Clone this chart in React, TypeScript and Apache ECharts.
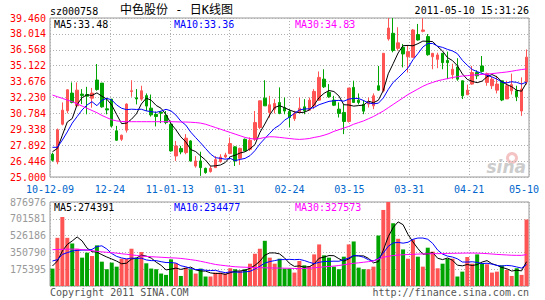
import React, { useEffect, useRef } from 'react';
import * as echarts from 'echarts';

// ---- data ----
const dateLabels = ['10-12-09', '12-24', '11-01-13', '01-31', '02-24', '03-15', '03-31', '04-21', '05-10'];
const priceTicks = ['25.000', '26.446', '27.892', '29.338', '30.784', '32.230', '33.676', '35.122', '36.568', '38.014', '39.460'];
const volTicks = ['', '175395', '350790', '526186', '701581', '876976'];

// [open, close, low, high]
const candles: number[][] = [
  [27.07, 26.52, 26.4, 27.2], [26.37, 29.29, 26.16, 29.41], [29.8, 31.08, 29.7, 31.78], [31.02, 32.93, 30.8, 32.98],
  [32.63, 31.78, 31.7, 33.6], [31.47, 32.9, 31.4, 33.6], [32.54, 32.42, 31.63, 32.99], [32.5, 32.35, 30.7, 33.2],
  [32.17, 32.63, 31.3, 33.1], [33.82, 32.95, 32.85, 35.27], [33.54, 31.38, 31.3, 33.55], [31.2, 31.1, 30.7, 32.2],
  [32.08, 29.65, 29.5, 32.1], [29.2, 28.34, 28.3, 29.65], [28.43, 28.8, 28.28, 28.85], [29.26, 31.63, 29.04, 31.7],
  [32.78, 32.84, 32.3, 33.8], [32.2, 32.1, 31.6, 33.0], [32.08, 32.84, 31.93, 33.3], [32.4, 31.45, 31.0, 32.6],
  [31.26, 30.65, 30.5, 32.5], [30.7, 30.5, 29.6, 30.95], [30.9, 30.8, 29.9, 31.0], [30.6, 29.95, 29.8, 31.0],
  [29.8, 27.37, 27.3, 29.95], [26.91, 27.83, 26.46, 28.28], [27.6, 27.28, 27.07, 27.83], [27.22, 28.53, 27.07, 28.9],
  [28.28, 26.46, 26.4, 28.34], [26.0, 26.46, 25.85, 26.9], [26.46, 25.85, 25.1, 27.3], [25.79, 25.4, 25.3, 25.85],
  [25.49, 25.79, 25.4, 26.0], [25.85, 26.58, 25.85, 26.9], [26.4, 26.82, 26.3, 27.07], [26.82, 27.0, 26.7, 27.2],
  [27.13, 28.04, 27.07, 28.59], [27.74, 26.46, 26.0, 27.8], [26.7, 27.6, 26.1, 27.67], [28.43, 27.37, 27.37, 28.5],
  [27.52, 28.34, 27.37, 28.6], [28.43, 29.95, 28.28, 31.0], [29.5, 31.93, 29.35, 31.93], [32.17, 31.47, 31.47, 33.8],
  [30.87, 31.57, 30.4, 32.38], [31.17, 31.69, 30.78, 32.08], [31.78, 30.78, 30.71, 33.15], [31.3, 31.0, 30.71, 32.23],
  [30.96, 30.41, 29.5, 31.17], [30.3, 30.78, 30.1, 31.02], [30.87, 31.26, 30.8, 32.23], [31.38, 31.02, 30.71, 32.08],
  [31.08, 31.99, 31.02, 32.23], [31.47, 32.78, 31.17, 32.99], [31.99, 34.06, 31.93, 34.6], [33.9, 33.2, 33.09, 34.8],
  [32.7, 32.3, 32.2, 33.45], [31.99, 31.53, 31.45, 32.38], [31.17, 30.78, 30.41, 31.78], [30.87, 30.05, 28.9, 31.63],
  [30.05, 33.09, 29.95, 33.09], [33.15, 31.78, 31.78, 33.76], [31.99, 31.78, 31.6, 32.6], [31.6, 30.99, 30.71, 31.99],
  [31.63, 31.85, 31.32, 32.23], [31.47, 32.38, 31.17, 32.6], [33.3, 32.9, 32.84, 35.1], [32.84, 36.25, 32.7, 36.25],
  [37.55, 38.55, 37.4, 39.46], [38.07, 36.5, 36.34, 39.46], [36.7, 37.2, 36.49, 38.62], [36.8, 36.19, 34.97, 37.1],
  [35.94, 36.4, 34.5, 36.95], [35.88, 38.37, 35.88, 38.46], [37.95, 37.46, 37.4, 38.92], [38.25, 38.37, 38.16, 39.46],
  [37.77, 36.12, 36.03, 38.0], [35.94, 36.25, 34.8, 36.25], [35.7, 36.1, 34.9, 36.3], [36.25, 35.4, 34.8, 36.25],
  [35.6, 35.4, 33.9, 36.4], [34.3, 34.8, 33.9, 35.3], [35.0, 33.9, 33.75, 35.8], [33.75, 32.39, 32.09, 33.75],
  [32.48, 32.9, 32.48, 33.4], [33.45, 34.5, 33.39, 35.1], [34.5, 34.2, 33.9, 34.7], [35.1, 34.6, 34.5, 36.0],
  [33.6, 34.4, 33.3, 34.5], [33.3, 33.9, 33.0, 34.1], [32.9, 33.45, 32.6, 34.2], [33.75, 32.0, 31.9, 33.75],
  [32.1, 33.3, 32.1, 33.75], [32.84, 33.4, 32.5, 34.4], [32.84, 32.3, 31.9, 33.3], [31.0, 33.0, 30.56, 34.06],
  [33.64, 35.9, 33.4, 36.6],
];

const volumes = [
  181600, 503000, 721000, 503000, 444000, 389000, 296000, 348000, 313000, 424000,
  254000, 175000, 244000, 202000, 285000, 285000, 389000, 296000, 355000, 237000,
  182000, 175000, 130000, 116000, 278000, 237000, 105000, 192000, 175000, 130000,
  182000, 99000, 99000, 140000, 140000, 130000, 185000, 175000, 157000, 175000,
  233000, 337000, 389000, 472000, 296000, 233000, 285000, 182000, 182000, 140000,
  261000, 216000, 209000, 330000, 434000, 320000, 296000, 202000, 175000, 306000,
  434000, 465000, 192000, 175000, 175000, 202000, 527000, 794000, 876976, 655000,
  493000, 382000, 285000, 486000, 306000, 202000, 400000, 358000, 185000, 233000,
  285000, 285000, 99000, 150000, 303000, 233000, 330000, 233000, 227000, 140000,
  150000, 216000, 168000, 105000, 185000, 116000, 694000,
];

const ma30Price = [
  32.45, 32.3, 32.15, 32.0, 31.85, 31.65, 31.45, 31.25, 31.05, 30.85,
  30.6, 30.4, 30.2, 30.1, 30.05, 30.03, 30.03, 30.03, 30.03, 30.03,
  30.03, 30.03, 30.03, 30.03, 30.03, 30.02, 30.0, 30.0, 29.98, 29.95,
  29.9, 29.8, 29.65, 29.5, 29.35, 29.2, 29.05, 28.9, 28.75, 28.6,
  28.5, 28.45, 28.5, 28.6, 28.66, 28.65, 28.6, 28.55, 28.5, 28.45,
  28.42, 28.45, 28.5, 28.6, 28.68, 28.8, 28.95, 29.15, 29.3, 29.45,
  29.6, 29.8, 29.95, 30.1, 30.3, 30.5, 30.75, 31.0, 31.3, 31.6,
  31.9, 32.2, 32.5, 32.75, 33.0, 33.25, 33.45, 33.6, 33.75, 33.85,
  33.95, 34.05, 34.12, 34.18, 34.22, 34.26, 34.3, 34.33, 34.36, 34.4,
  34.45, 34.5, 34.55, 34.62, 34.7, 34.77, 34.83,
];

const ma30Vol = [
  379000, 381000, 383000, 384000, 385000, 384000, 380000, 375000, 369000, 362000,
  356000, 352000, 348000, 343000, 337000, 331000, 325000, 319000, 313000, 309000,
  306000, 303000, 300000, 297000, 294000, 292000, 288000, 282000, 275000, 268000,
  258000, 247000, 236000, 225000, 218000, 212000, 206000, 201000, 198000, 196000,
  194000, 192000, 191000, 190000, 189000, 188000, 187000, 186000, 185000, 183000,
  182000, 183000, 186000, 190000, 195000, 200000, 204000, 208000, 214000, 222000,
  230000, 237000, 242000, 248000, 254000, 262000, 280000, 300000, 310000, 318000,
  323000, 326000, 329000, 331000, 333000, 335000, 336000, 337000, 338000, 339000,
  340000, 341000, 342000, 343000, 344000, 344000, 343000, 341000, 338000, 334000,
  330000, 327000, 324000, 321000, 320000, 320000, 327573,
];

// leading moving-average values (history before the first candle)
const ma5PriceHead = [27.3, 27.6, 28.8, 30.0];
const ma10PriceHead = [27.7, 27.7, 28.36, 29.1, 29.9, 30.5, 31.1, 31.55, 31.85];
const ma5VolHead = [209000, 261000, 365000, 434000];
const ma10VolHead = [261000, 275000, 330000, 348000, 365000, 372000, 375000, 375000, 382000];

const RED = '#ff5454';
const GREEN = '#00a400';
const MONO = '"DejaVu Sans Mono", monospace';

function movingAvg(values: number[], n: number, head: number[]) {
  return values.map((_, i) => {
    if (i < n - 1) return head[i];
    let s = 0;
    for (let k = i - n + 1; k <= i; k++) s += values[k];
    return s / n;
  });
}

export default function App() {
  const ref = useRef<HTMLDivElement>(null);
  useEffect(() => {
    if (!ref.current) return;
    const chart = echarts.init(ref.current, undefined, { renderer: 'svg' });
    const cats = candles.map((_, i) => String(i));
    const closes = candles.map((c) => c[1]);
    const ma5 = movingAvg(closes, 5, ma5PriceHead);
    const ma10 = movingAvg(closes, 10, ma10PriceHead);
    const vma5 = movingAvg(volumes, 5, ma5VolHead);
    const vma10 = movingAvg(volumes, 10, ma10VolHead);
    const dotted = { show: true, lineStyle: { color: '#b0b0b0', type: [1, 2] as any, width: 1 } };
    const hidden = { axisLine: { show: false }, axisTick: { show: false } };
    const lineS = (data: number[], color: string, xi: number, yi: number) => ({
      type: 'line', data, xAxisIndex: xi, yAxisIndex: yi, symbol: 'none', silent: true,
      lineStyle: { color, width: 1 }, z: 5,
    });
    const txt = (x: number, y: number, text: string, fill: string, extra: any = {}) => ({
      type: 'text', x, y, silent: true,
      style: { text, fill, font: `10px ${MONO}`, verticalAlign: 'middle', ...extra },
    });
    chart.setOption({
      animation: false,
      backgroundColor: '#ffffff',
      grid: [
        { left: 50, top: 18, width: 479, height: 159, show: true, borderColor: '#999', borderWidth: 1 },
        { left: 50, top: 202, width: 479, height: 84, show: true, borderColor: '#999', borderWidth: 1 },
      ],
      xAxis: [
        { type: 'category', gridIndex: 0, position: 'bottom', data: cats, ...hidden, axisLabel: { show: false }, splitLine: { show: false } },
        {
          type: 'value', gridIndex: 0, position: 'bottom', offset: 0, min: 0, max: 8, interval: 1, ...hidden, splitLine: dotted,
          axisLabel: {
            show: true, color: '#0066cc', fontFamily: MONO, fontSize: 10, margin: 7,
            showMinLabel: true, showMaxLabel: true, hideOverlap: false,
            formatter: (v: number) => {
              const i = Math.round(v);
              return i === 8 ? `{end|${dateLabels[i]}}` : dateLabels[i];
            },
            rich: { end: { color: '#0066cc', fontFamily: MONO, fontSize: 10, padding: [0, 10, 0, 0] } },
          },
        },
        { type: 'category', gridIndex: 1, position: 'bottom', data: cats, ...hidden, axisLabel: { show: false }, splitLine: { show: false } },
        { type: 'value', gridIndex: 1, position: 'bottom', min: 0, max: 8, interval: 1, ...hidden, splitLine: dotted, axisLabel: { show: false } },
      ],
      yAxis: [
        {
          type: 'value', gridIndex: 0, min: 25, max: 39.46, interval: 1.446, ...hidden, splitLine: dotted,
          axisLabel: {
            color: '#ff0000', fontFamily: MONO, fontSize: 10, margin: 4,
            showMinLabel: true, showMaxLabel: true,
            formatter: (v: number) => priceTicks[Math.round((v - 25) / 1.446)] ?? '',
          },
        },
        {
          type: 'value', gridIndex: 1, min: 0, max: 876976, interval: 175395.2, ...hidden, splitLine: dotted,
          axisLabel: {
            color: '#999999', fontFamily: MONO, fontSize: 10, margin: 4,
            showMinLabel: true, showMaxLabel: true,
            formatter: (v: number) => volTicks[Math.round(v / 175395.2)] ?? '',
          },
        },
      ],
      series: [
        {
          type: 'candlestick', xAxisIndex: 0, yAxisIndex: 0, data: candles, barWidth: 3, silent: true,
          itemStyle: { color: RED, color0: GREEN, borderColor: RED, borderColor0: GREEN, borderWidth: 1 },
        },
        lineS(ma5, '#000000', 0, 0),
        lineS(ma10, '#0000ff', 0, 0),
        lineS(ma30Price, '#ff00ff', 0, 0),
        {
          type: 'bar', xAxisIndex: 2, yAxisIndex: 1, barWidth: 4, silent: true,
          data: volumes.map((v, i) => ({
            value: v,
            itemStyle: { color: candles[i][1] >= candles[i][0] ? RED : GREEN },
          })),
        },
        lineS(vma5, '#000000', 2, 1),
        lineS(vma10, '#0000ff', 2, 1),
        lineS(ma30Vol, '#ff00ff', 2, 1),
      ],
      graphic: [
        txt(50, 11, 'sz000758', '#000'),
        {
          type: 'text', x: 120, y: 10, silent: true,
          style: { text: '中色股份 - 日K线图', fill: '#000', font: `12px "DejaVu Sans Mono", "Noto Sans CJK SC", monospace`, verticalAlign: 'middle' },
        },
        txt(529, 10, '2011-05-10 15:31:26', '#000', { align: 'right' }),
        txt(54, 24, 'MA5:33.48', '#000'),
        txt(174, 24, 'MA10:33.36', '#0000ff'),
        txt(295, 24, 'MA30:34.83', '#ff00ff'),
        txt(54, 207, 'MA5:274391', '#000'),
        txt(174, 207, 'MA10:234477', '#0000ff'),
        txt(295, 207, 'MA30:327573', '#ff00ff'),
        txt(50, 292, 'Copyright 2011 SINA.COM', '#555'),
        txt(529, 292, 'http://finance.sina.com.cn', '#555', { align: 'right' }),
        {
          type: 'ring', shape: { cx: 512, cy: 158, r: 6, r0: 3 }, silent: true,
          style: { fill: '#f4c4c4' },
        },
        {
          type: 'text', x: 526, y: 167, silent: true,
          style: { text: 'sina', fill: '#cccccc', font: 'italic bold 17px "DejaVu Sans", sans-serif', align: 'right', verticalAlign: 'middle' },
        },
      ],
    });
    return () => chart.dispose();
  }, []);
  return <div ref={ref} style={{ position: 'fixed', left: 0, top: 0, width: 545, height: 300 }} />;
}
